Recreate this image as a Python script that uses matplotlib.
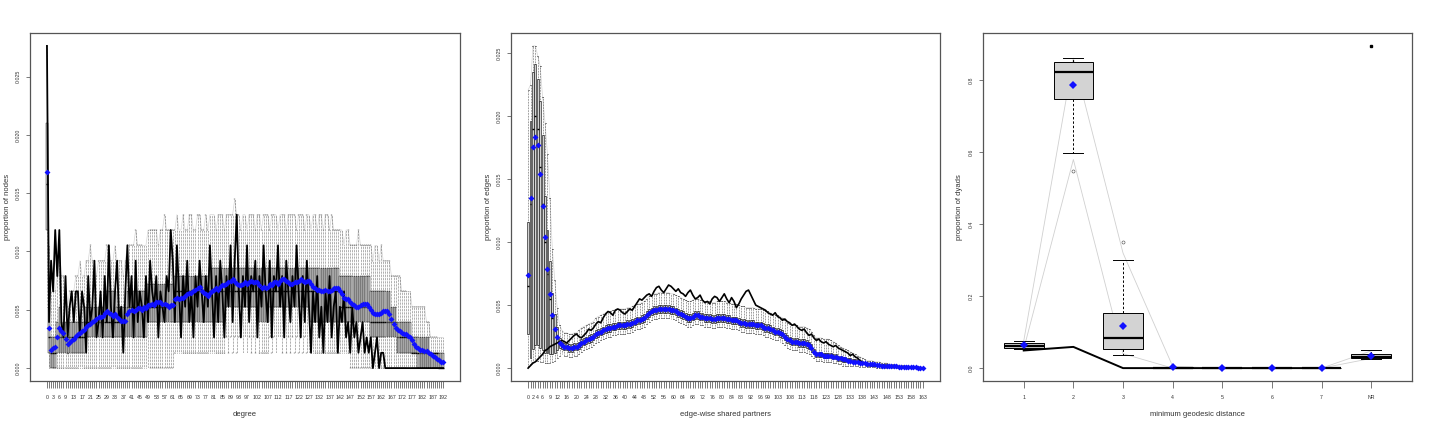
import matplotlib
matplotlib.use("Agg")
import matplotlib.pyplot as plt
import numpy as np

plt.rcParams['font.family'] = ['Liberation Sans', 'DejaVu Sans']

# ---------------- Panel 1: degree (counts out of N_NODES nodes) ----------------
N_NODES = 760
deg_cats = list(range(0, 193))
deg_tick_labels = [0, 3, 6, 9, 13, 17, 21, 25, 29, 33, 37, 41, 45, 49, 53, 57, 61, 65, 69, 73,
                   77, 81, 85, 89, 93, 97, 102, 107, 112, 117, 122, 127, 132, 137, 142, 147,
                   152, 157, 162, 167, 172, 177, 182, 187, 192]
deg_mean = [12.8, 2.6, 1.2, 1.3, 1.4, 2.0, 2.6, 2.4, 2.3, 1.9,
            1.6, 1.7, 1.8, 1.9, 2.1, 2.2, 2.3, 2.4, 2.5, 2.7,
            2.8, 2.9, 3.0, 3.1, 3.2, 3.3, 3.3, 3.4, 3.6, 3.7,
            3.6, 3.5, 3.4, 3.5, 3.3, 3.2, 3.1, 3.1, 3.1, 3.5,
            3.7, 3.8, 3.7, 3.8, 3.9, 3.9, 3.8, 4.0, 3.9, 4.1,
            4.1, 4.2, 4.1, 4.3, 4.3, 4.3, 4.2, 4.2, 4.1, 4.0,
            4.1, 4.1, 4.5, 4.6, 4.5, 4.6, 4.6, 4.7, 4.8, 4.9,
            4.9, 5.0, 5.1, 5.2, 5.3, 5.0, 4.9, 4.8, 4.7, 4.9,
            5.0, 5.1, 5.2, 5.1, 5.3, 5.4, 5.4, 5.5, 5.6, 5.7,
            5.8, 5.6, 5.5, 5.4, 5.4, 5.5, 5.6, 5.5, 5.6, 5.7,
            5.6, 5.6, 5.6, 5.4, 5.2, 5.3, 5.2, 5.3, 5.5, 5.4,
            5.6, 5.6, 5.5, 5.7, 5.8, 5.8, 5.7, 5.6, 5.5, 5.5,
            5.6, 5.6, 5.7, 5.8, 5.7, 5.6, 5.7, 5.7, 5.5, 5.3,
            5.2, 5.1, 5.1, 5.0, 5.0, 5.1, 5.0, 5.0, 5.1, 5.2,
            5.2, 5.2, 5.0, 4.8, 4.6, 4.5, 4.5, 4.3, 4.2, 4.1,
            4.0, 4.0, 4.1, 4.2, 4.2, 4.2, 4.0, 3.8, 3.6, 3.5,
            3.5, 3.5, 3.6, 3.7, 3.7, 3.7, 3.5, 3.2, 2.9, 2.6,
            2.5, 2.4, 2.3, 2.2, 2.2, 2.1, 2.0, 1.8, 1.6, 1.4,
            1.3, 1.2, 1.2, 1.1, 1.1, 1.0, 0.9, 0.8, 0.7, 0.6,
            0.5, 0.4, 0.4]
deg_obs = [21, 3, 7, 5, 9, 6, 9, 3, 2, 6,
           2, 4, 5, 3, 5, 5, 2, 5, 4, 1,
           6, 3, 4, 7, 2, 3, 5, 2, 6, 3,
           8, 4, 2, 5, 7, 3, 4, 1, 5, 8,
           4, 6, 2, 7, 3, 5, 4, 2, 6, 3,
           7, 5, 4, 6, 2, 5, 4, 3, 6, 5,
           9, 7, 3, 8, 5, 2, 6, 4, 7, 3,
           5, 2, 6, 4, 7, 5, 3, 6, 4, 8,
           5, 2, 6, 3, 7, 5, 2, 6, 4, 8,
           3, 7, 10, 5, 2, 6, 4, 8, 3, 6,
           5, 7, 2, 6, 4, 8, 5, 3, 7, 2,
           6, 5, 8, 4, 6, 2, 7, 5, 3, 6,
           4, 8, 5, 2, 6, 3, 7, 4, 1, 5,
           3, 6, 2, 4, 1, 5, 3, 6, 2, 4,
           5, 1, 4, 3, 5, 2, 3, 1, 4, 2,
           3, 1, 2, 3, 1, 2, 1, 2, 0, 1,
           2, 0, 1, 1, 0, 0, 0, 0, 0, 0,
           0, 0, 0, 0, 0, 0, 0, 0, 0, 0,
           0, 0, 0, 0, 0, 0, 0, 0, 0, 0,
           0, 0, 0]
deg_q1 = [9, 1, 0, 0, 0, 1, 1, 1, 1, 1,
          1, 1, 1, 1, 1, 1, 1, 1, 1, 2,
          2, 2, 2, 2, 2, 2, 2, 2, 2, 2,
          2, 2, 2, 2, 2, 2, 2, 2, 2, 2,
          2, 2, 2, 2, 2, 2, 2, 2, 2, 3,
          3, 3, 3, 3, 3, 3, 3, 3, 3, 3,
          3, 3, 3, 3, 3, 3, 3, 3, 3, 3,
          3, 3, 3, 3, 3, 3, 3, 3, 3, 3,
          3, 3, 3, 3, 3, 3, 3, 4, 4, 4,
          4, 4, 4, 4, 4, 4, 4, 4, 4, 4,
          4, 4, 4, 3, 3, 3, 3, 3, 4, 4,
          4, 4, 4, 4, 4, 4, 4, 4, 4, 4,
          4, 4, 4, 4, 4, 4, 4, 4, 3, 3,
          3, 3, 3, 3, 3, 3, 3, 3, 3, 3,
          3, 3, 3, 3, 3, 3, 3, 3, 3, 3,
          3, 3, 3, 3, 3, 3, 3, 2, 2, 2,
          2, 2, 2, 2, 2, 2, 2, 2, 2, 2,
          1, 1, 1, 1, 1, 1, 1, 1, 1, 1,
          0, 0, 0, 0, 0, 0, 0, 0, 0, 0,
          0, 0, 0]
deg_med = [12, 2, 1, 1, 1, 2, 2, 2, 2, 2,
           1, 2, 2, 2, 2, 2, 2, 2, 2, 3,
           3, 3, 3, 3, 3, 3, 3, 3, 3, 3,
           3, 3, 3, 3, 3, 3, 3, 3, 3, 4,
           4, 4, 4, 4, 4, 4, 4, 4, 4, 4,
           4, 4, 4, 4, 4, 4, 4, 4, 4, 4,
           4, 4, 5, 5, 5, 5, 5, 5, 5, 5,
           5, 5, 5, 5, 5, 5, 5, 5, 5, 5,
           5, 5, 5, 5, 5, 5, 5, 5, 5, 5,
           5, 5, 5, 5, 5, 5, 5, 5, 5, 5,
           5, 5, 5, 5, 5, 5, 5, 5, 5, 5,
           5, 5, 5, 5, 5, 5, 5, 5, 5, 5,
           5, 5, 5, 5, 5, 5, 5, 5, 5, 5,
           5, 5, 5, 5, 5, 5, 5, 5, 5, 5,
           5, 5, 4, 4, 4, 4, 4, 4, 4, 4,
           4, 4, 4, 4, 4, 4, 4, 3, 3, 3,
           3, 3, 3, 3, 3, 3, 3, 3, 3, 3,
           2, 2, 2, 2, 2, 2, 2, 1, 1, 1,
           1, 1, 1, 1, 1, 1, 1, 1, 1, 1,
           0, 0, 0]
deg_q3 = [16, 4, 2, 2, 2, 3, 4, 3, 3, 3,
          2, 3, 3, 3, 3, 3, 3, 3, 3, 4,
          4, 4, 4, 4, 4, 4, 4, 4, 5, 5,
          5, 5, 5, 5, 4, 4, 4, 4, 4, 5,
          5, 5, 5, 5, 5, 5, 5, 5, 5, 5.5,
          5.5, 5.5, 5.5, 5.5, 5.5, 5.5, 5.5, 5.5, 5.5, 5.5,
          5.5, 5.5, 6, 6, 6, 6, 6, 6, 6, 6,
          6, 6, 6, 6, 6, 6, 6, 6, 6, 6.5,
          6.5, 6.5, 6.5, 6.5, 6.5, 6.5, 6.5, 6.5, 6.5, 6.5,
          6.5, 6.5, 6.5, 6.5, 6.5, 6.5, 6.5, 6.5, 6.5, 6.5,
          6.5, 6.5, 6.5, 6.5, 6.5, 6.5, 6.5, 6.5, 6.5, 6.5,
          6.5, 6.5, 6.5, 6.5, 6.5, 6.5, 6.5, 6.5, 6.5, 6.5,
          6.5, 6.5, 6.5, 6.5, 6.5, 6.5, 6.5, 6.5, 6.5, 6.5,
          6.5, 6.5, 6.5, 6.5, 6.5, 6.5, 6.5, 6.5, 6.5, 6.5,
          6.5, 6.5, 6, 6, 6, 6, 6, 6, 6, 6,
          6, 6, 6, 6, 6, 6, 6, 5, 5, 5,
          5, 5, 5, 5, 5, 5, 5, 4, 4, 4,
          3, 3, 3, 3, 3, 3, 3, 2, 2, 2,
          2, 2, 2, 2, 2, 2, 1, 1, 1, 1,
          1, 1, 1]
deg_wlo = [4, 0, 0, 0, 0, 0, 0, 0, 0, 0,
           0, 0, 0, 0, 0, 0, 0, 0, 0, 0,
           0, 0, 0, 0, 0, 0, 0, 0, 0, 0,
           0, 0, 0, 0, 0, 0, 0, 0, 0, 0,
           0, 0, 0, 0, 0, 0, 0, 0, 0, 0,
           0, 0, 0, 0, 0, 0, 0, 0, 0, 0,
           0, 0, 1, 1, 1, 1, 1, 1, 1, 1,
           1, 1, 1, 1, 1, 1, 1, 1, 1, 1,
           1, 1, 1, 1, 1, 1, 1, 2, 1, 2,
           1, 2, 1, 2, 2, 1, 2, 1, 2, 1,
           2, 1, 2, 1, 1, 1, 1, 1, 2, 1,
           2, 1, 2, 2, 1, 2, 1, 2, 1, 2,
           1, 2, 1, 2, 1, 2, 1, 1, 1, 1,
           1, 1, 1, 1, 1, 1, 1, 1, 1, 1,
           1, 1, 1, 1, 1, 1, 1, 0, 0, 0,
           0, 0, 0, 0, 0, 0, 0, 0, 0, 0,
           0, 0, 0, 0, 0, 0, 0, 0, 0, 0,
           0, 0, 0, 0, 0, 0, 0, 0, 0, 0,
           0, 0, 0, 0, 0, 0, 0, 0, 0, 0,
           0, 0, 0]
deg_whi = [21, 8, 5, 5, 5, 6, 8, 6, 6, 5,
           4, 5, 5, 5, 6, 6, 7, 6, 6, 7,
           7, 8, 7, 7, 6, 7, 7, 7, 7, 8,
           8, 7, 7, 8, 7, 7, 7, 6, 7, 8,
           8, 8, 8, 9, 8, 8, 8, 8, 8, 9,
           9, 9, 9, 9, 8, 9, 9, 10, 9, 9,
           9, 9, 9, 10, 9, 9, 10, 9, 9, 10,
           10, 9, 9, 10, 10, 9, 9, 10, 9, 10,
           10, 10, 9, 10, 10, 10, 9, 10, 10, 10,
           10, 11, 10, 10, 9, 10, 10, 9, 10, 10,
           10, 9, 10, 10, 9, 10, 10, 10, 9, 10,
           10, 10, 9, 10, 10, 10, 9, 10, 10, 10,
           10, 9, 10, 10, 10, 9, 10, 10, 9, 10,
           10, 9, 10, 10, 9, 10, 10, 9, 10, 9,
           9, 9, 9, 9, 8, 9, 9, 8, 8, 8,
           8, 9, 8, 8, 8, 8, 8, 8, 7, 8,
           8, 7, 8, 7, 7, 7, 7, 6, 6, 6,
           6, 6, 5, 5, 5, 5, 5, 4, 4, 4,
           4, 4, 4, 4, 3, 3, 2, 2, 2, 2,
           2, 2, 2]

# ---------------- Panel 2: edge-wise shared partners (units of 1e-4) ----------------
ESP_UNIT = 1e-4
esp_cats = list(range(0, 164))
esp_tick_labels = [0, 2, 4, 6, 9, 12, 16, 20, 24, 28, 32, 36, 40, 44, 48, 52, 56, 60, 64, 68,
                   72, 76, 80, 84, 88, 92, 96, 99, 103, 108, 113, 118, 123, 128, 133, 138,
                   143, 148, 153, 158, 163]
esp_mean = [74, 135, 176, 184, 177, 154, 129, 104, 79, 59,
            42, 31, 25, 20, 18, 17, 17, 16, 16, 17,
            17, 18, 20, 21, 22, 23, 24, 25, 27, 28,
            29, 30, 31, 32, 32, 33, 33, 34, 34, 34,
            34, 35, 35, 36, 37, 38, 38, 39, 40, 42,
            44, 45, 46, 46, 47, 47, 47, 47, 47, 46,
            46, 45, 44, 43, 42, 41, 40, 40, 41, 42,
            42, 41, 41, 40, 40, 40, 39, 39, 40, 40,
            40, 40, 39, 39, 38, 38, 38, 37, 36, 36,
            35, 35, 35, 35, 34, 34, 34, 33, 32, 32,
            31, 30, 29, 29, 28, 27, 25, 23, 22, 21,
            21, 21, 20, 20, 20, 19, 18, 16, 13, 11,
            11, 11, 10, 10, 10, 10, 9, 9, 8, 8,
            7, 7, 6, 6, 5, 5, 5, 4, 4, 4,
            3, 3, 3, 3, 2.5, 2.5, 2, 2, 2, 1.8,
            1.5, 1.4, 1.3, 1.2, 1.1, 1.0, 0.9, 0.8, 0.7, 0.6,
            0.5, 0.4, 0.3, 0.3]
esp_obs = [0, 2, 4, 5, 7, 9, 11, 14, 15, 17,
           18, 19, 20, 21, 22, 21, 20, 22, 24, 26,
           27, 25, 24, 26, 28, 31, 30, 32, 35, 37,
           36, 40, 43, 45, 44, 42, 46, 47, 46, 44,
           43, 45, 47, 46, 49, 52, 55, 54, 56, 58,
           59, 57, 61, 64, 65, 62, 60, 63, 66, 65,
           63, 61, 63, 60, 59, 57, 60, 62, 58, 55,
           56, 58, 54, 52, 53, 51, 55, 57, 56, 53,
           56, 59, 55, 52, 56, 53, 48, 51, 55, 58,
           61, 62, 58, 54, 50, 49, 48, 47, 46, 44,
           43, 42, 44, 41, 40, 38, 39, 37, 36, 34,
           35, 33, 31, 30, 31, 28, 26, 27, 24, 22,
           23, 21, 20, 21, 19, 18, 17, 18, 16, 15,
           14, 13, 12, 10, 11, 9, 8, 6, 5, 4,
           4, 3, 3, 2, 2, 2, 2, 2, 2, 1,
           1, 1, 1, 1, 1, 1, 1, 1, 1, 0.5,
           0.4, 0.3, 0.3, 0.2]
esp_q1 = [27, 8, 15, 18, 18, 16, 14, 12, 12, 11,
          11, 12, 14, 16, 15, 14, 14, 13, 13, 14,
          14, 15, 17, 18, 19, 20, 21, 22, 24, 25,
          26, 27, 28, 29, 29, 30, 30, 31, 31, 31,
          31, 32, 32, 33, 34, 35, 35, 36, 37, 39,
          41, 42, 43, 43, 44, 44, 44, 44, 44, 43,
          43, 42, 41, 40, 39, 38, 37, 37, 38, 39,
          39, 38, 38, 37, 37, 37, 36, 36, 37, 37,
          37, 37, 36, 36, 35, 35, 35, 34, 33, 33,
          32, 32, 32, 32, 31, 31, 31, 30, 29, 29,
          28, 27, 26, 26, 25, 24, 22, 20, 19, 18,
          18, 18, 17, 17, 17, 16, 15, 13, 11, 9,
          9, 9, 8, 8, 8, 8, 7, 7, 6, 6,
          5, 5, 5, 5, 4, 4, 4, 3, 3, 3,
          2, 2, 2, 2, 2, 2, 1.5, 1.5, 1.5, 1.3,
          1.0, 1.0, 0.9, 0.8, 0.8, 0.7, 0.6, 0.5, 0.5, 0.4,
          0.3, 0.2, 0.2, 0.2]
esp_med = [65, 130, 190, 200, 190, 160, 130, 100, 75, 55,
           40, 30, 24, 20, 18, 17, 17, 16, 16, 17,
           17, 18, 20, 21, 22, 23, 24, 25, 27, 28,
           29, 30, 31, 32, 32, 33, 33, 34, 34, 34,
           34, 35, 35, 36, 37, 38, 38, 39, 40, 42,
           44, 45, 46, 46, 47, 47, 47, 47, 47, 46,
           46, 45, 44, 43, 42, 41, 40, 40, 41, 42,
           42, 41, 41, 40, 40, 40, 39, 39, 40, 40,
           40, 40, 39, 39, 38, 38, 38, 37, 36, 36,
           35, 35, 35, 35, 34, 34, 34, 33, 32, 32,
           31, 30, 29, 29, 28, 27, 25, 23, 22, 21,
           21, 21, 20, 20, 20, 19, 18, 16, 13, 11,
           11, 11, 10, 10, 10, 10, 9, 9, 8, 8,
           7, 7, 6, 6, 5, 5, 5, 4, 4, 4,
           3, 3, 3, 3, 2.5, 2.5, 2, 2, 2, 1.8,
           1.5, 1.4, 1.3, 1.2, 1.1, 1.0, 0.9, 0.8, 0.7, 0.6,
           0.5, 0.4, 0.3, 0.3]
esp_q3 = [116, 196, 235, 242, 230, 212, 185, 137, 110, 85,
          60, 43, 33, 24, 21, 20, 20, 19, 19, 20,
          20, 21, 23, 24, 25, 26, 27, 28, 30, 31,
          32, 33, 34, 35, 35, 36, 36, 37, 37, 37,
          37, 38, 38, 39, 40, 41, 41, 42, 43, 45,
          47, 48, 49, 49, 50, 50, 50, 50, 50, 49,
          49, 48, 47, 46, 45, 44, 43, 43, 44, 45,
          45, 44, 44, 43, 43, 43, 42, 42, 43, 43,
          43, 43, 42, 42, 41, 41, 41, 40, 39, 39,
          38, 38, 38, 38, 37, 37, 37, 36, 35, 35,
          34, 33, 32, 32, 31, 30, 28, 26, 25, 24,
          24, 24, 23, 23, 23, 22, 21, 19, 15, 13,
          13, 13, 12, 12, 12, 12, 11, 11, 10, 10,
          9, 9, 8, 8, 7, 7, 7, 6, 5, 5,
          4, 4, 4, 4, 3.5, 3.5, 3, 3, 3, 2.5,
          2.0, 2.0, 1.8, 1.7, 1.5, 1.4, 1.3, 1.2, 1.0, 0.9,
          0.7, 0.6, 0.5, 0.5]
esp_wlo = [2, 3, 5, 6, 6, 5, 5, 4, 4, 4,
           5, 6, 8, 10, 11, 10, 10, 9, 9, 10,
           10, 11, 13, 14, 15, 16, 17, 18, 20, 21,
           22, 23, 24, 25, 25, 26, 26, 27, 27, 27,
           27, 28, 28, 29, 30, 31, 31, 32, 33, 35,
           37, 38, 39, 39, 40, 40, 40, 40, 40, 39,
           39, 38, 37, 36, 35, 34, 33, 33, 34, 35,
           35, 34, 34, 33, 33, 33, 32, 32, 33, 33,
           33, 33, 32, 32, 31, 31, 31, 30, 29, 29,
           28, 28, 28, 28, 27, 27, 27, 26, 25, 25,
           24, 23, 22, 22, 21, 20, 18, 16, 15, 14,
           14, 14, 13, 13, 13, 12, 11, 10, 8, 6,
           6, 6, 5, 5, 5, 5, 4, 4, 3, 3,
           2, 2, 2, 2, 1.5, 1.5, 1.5, 1, 1, 1,
           0.5, 0.5, 0.5, 0.5, 0.4, 0.4, 0.3, 0.3, 0.3, 0.2,
           0.1, 0.1, 0.1, 0.1, 0.1, 0, 0, 0, 0, 0,
           0, 0, 0, 0]
esp_whi = [221, 225, 256, 256, 248, 240, 215, 195, 170, 135,
           95, 70, 48, 34, 30, 28, 28, 27, 27, 28,
           28, 30, 32, 33, 34, 35, 36, 37, 40, 41,
           42, 43, 44, 45, 45, 46, 46, 47, 47, 47,
           47, 48, 48, 49, 50, 51, 51, 52, 53, 55,
           57, 58, 59, 59, 60, 60, 60, 60, 60, 59,
           59, 58, 57, 56, 55, 54, 53, 53, 54, 55,
           55, 54, 54, 53, 53, 53, 52, 52, 53, 53,
           53, 53, 52, 52, 51, 51, 51, 50, 49, 49,
           48, 48, 48, 48, 47, 47, 47, 46, 45, 45,
           44, 43, 42, 42, 41, 40, 38, 36, 35, 34,
           34, 34, 33, 33, 33, 32, 31, 29, 26, 24,
           24, 24, 23, 23, 23, 22, 21, 20, 18, 17,
           16, 15, 14, 13, 12, 11, 10, 9, 8, 7,
           6, 6, 6, 5, 5, 5, 4, 4, 4, 3.5,
           3, 3, 2.8, 2.6, 2.4, 2.2, 2.0, 1.8, 1.6, 1.4,
           1.2, 1.0, 0.8, 0.7]

# ---------------- Panel 3: minimum geodesic distance ----------------
dist_labels = ['1', '2', '3', '4', '5', '6', '7', 'NR']
dist_mean = [0.063, 0.786, 0.118, 0.003, 0.0, 0.0, 0.0, 0.033]
dist_obs = [0.049, 0.059, 0.0, 0.0, 0.0, 0.0, 0.0, 0.896]
dist_q1 = [0.056, 0.749, 0.053, 0.0, 0.0, 0.0, 0.0, 0.028]
dist_med = [0.062, 0.823, 0.084, 0.0, 0.0, 0.0, 0.0, 0.031]
dist_q3 = [0.070, 0.851, 0.153, 0.002, 0.0, 0.0, 0.0, 0.040]
dist_wlo = [0.052, 0.598, 0.037, 0.0, 0.0, 0.0, 0.0, 0.026]
dist_whi = [0.074, 0.862, 0.302, 0.004, 0.0, 0.0, 0.0, 0.049]
dist_out = [[], [0.549], [0.350], [], [], [], [], []]
dist_lo = [0.053, 0.58, 0.04, 0.0, 0.0, 0.0, 0.0, 0.027]
dist_hi = [0.075, 0.862, 0.32, 0.005, 0.0, 0.0, 0.0, 0.048]

W, H = 1429, 424
fig = plt.figure(figsize=(W / 100, H / 100), dpi=100)
fig.patch.set_facecolor('white')

TXT = '#333333'
FRAME = '#555555'


def make_axes(left_px, width_px):
    return fig.add_axes([left_px / W, 43 / H, width_px / W, 348 / H])


def style(ax, n, label_text, xlabel, ylabel, yticks, yfmt, ylabpad):
    for s in ax.spines.values():
        s.set_color(FRAME)
        s.set_linewidth(0.9)
    ax.set_xlim(0.5 - 0.04 * n, n + 0.5 + 0.04 * n)
    ax.set_xticks(np.arange(1, n + 1))
    ax.set_xticklabels(label_text)
    ax.tick_params(axis='x', length=5, width=0.5, colors='#444444', labelsize=3.8, pad=5,
                   labelcolor=TXT)
    ax.set_yticks(yticks)
    ax.set_yticklabels([yfmt.format(v) for v in yticks], rotation=90, va='center')
    ax.tick_params(axis='y', length=3, width=0.5, colors='#444444', labelsize=3.8, pad=4,
                   labelcolor=TXT)
    ax.set_xlabel(xlabel, fontsize=5.5, color=TXT, labelpad=8)
    ax.set_ylabel(ylabel, fontsize=5.5, color=TXT, labelpad=ylabpad)


def set_ylim_r(ax, arrays):
    vals = np.concatenate([np.ravel(np.asarray(a, dtype=float)) for a in arrays])
    lo, hi = vals.min(), vals.max()
    pad = 0.04 * (hi - lo)
    ax.set_ylim(lo - pad, hi + pad)


def draw_boxes(ax, pos, q1, med, q3, wlo, whi, fliers, lw, wlw, medlw, dash):
    stats = []
    for i in range(len(pos)):
        stats.append(dict(q1=q1[i], med=med[i], q3=q3[i], whislo=wlo[i], whishi=whi[i],
                          fliers=fliers[i]))
    ax.bxp(stats, positions=pos, widths=0.8, capwidths=0.4, patch_artist=True,
           showfliers=True, manage_ticks=False,
           boxprops=dict(facecolor='#D3D3D3', edgecolor='black', linewidth=lw),
           whiskerprops=dict(color='black', linewidth=wlw, linestyle=(0, dash)),
           capprops=dict(color='black', linewidth=lw),
           medianprops=dict(color='black', linewidth=medlw, solid_capstyle='butt'),
           flierprops=dict(marker='o', markersize=2.2, markerfacecolor='none',
                           markeredgecolor='#444444', markeredgewidth=0.4))


# ---- Panel 1 ----
ax1 = make_axes(30, 430)
n1 = len(deg_cats)
p1 = np.arange(1, n1 + 1)
sc = 1.0 / N_NODES
d_q1 = np.array(deg_q1) * sc
d_med = np.array(deg_med) * sc
d_q3 = np.array(deg_q3) * sc
d_wlo = np.array(deg_wlo) * sc
d_whi = np.array(deg_whi) * sc
d_mean = np.array(deg_mean) * sc
d_obs = np.array(deg_obs) * sc
draw_boxes(ax1, p1, d_q1, d_med, d_q3, d_wlo, d_whi, [[] for _ in p1], 0.3, 0.4, 1.0,
           (1.0, 1.6))
ax1.plot(p1, d_whi, color='#d5d5d5', lw=0.5, zorder=1)
ax1.plot(p1, d_obs, color='black', lw=1.3, zorder=4)
ax1.plot(p1, d_mean, linestyle='none', marker='D', markersize=3.0, color='#1010ff',
         markeredgewidth=0, zorder=5)
lab1 = [str(c) if c in deg_tick_labels else '' for c in deg_cats]
set_ylim_r(ax1, [d_q1, d_whi, d_obs, d_mean, d_wlo])
style(ax1, n1, lab1, 'degree', 'proportion of nodes',
      [0.0, 0.005, 0.010, 0.015, 0.020, 0.025], '{:.3f}', 3)

# ---- Panel 2 ----
ax2 = make_axes(511, 429)
n2 = len(esp_cats)
p2 = np.arange(1, n2 + 1)
e = ESP_UNIT
e_q1 = np.array(esp_q1) * e
e_med = np.array(esp_med) * e
e_q3 = np.array(esp_q3) * e
e_wlo = np.array(esp_wlo) * e
e_whi = np.array(esp_whi) * e
e_mean = np.array(esp_mean) * e
e_obs = np.array(esp_obs) * e
draw_boxes(ax2, p2, e_q1, e_med, e_q3, e_wlo, e_whi, [[] for _ in p2], 0.4, 0.4, 1.0,
           (1.2, 1.6))
ax2.plot(p2, e_whi, color='#d5d5d5', lw=0.5, zorder=1)
ax2.plot(p2, e_obs, color='black', lw=1.2, zorder=4)
ax2.plot(p2, e_mean, linestyle='none', marker='D', markersize=3.0, color='#1010ff',
         markeredgewidth=0, zorder=5)
lab2 = [str(c) if c in esp_tick_labels else '' for c in esp_cats]
set_ylim_r(ax2, [e_q1, e_whi, e_obs, e_mean, e_wlo])
style(ax2, n2, lab2, 'edge-wise shared partners', 'proportion of edges',
      [0.0, 0.005, 0.010, 0.015, 0.020, 0.025], '{:.3f}', 3)

# ---- Panel 3 ----
ax3 = make_axes(983, 429)
n3 = len(dist_labels)
p3 = np.arange(1, n3 + 1)
ax3.plot(p3, dist_lo, color='#d0d0d0', lw=0.6, zorder=1)
ax3.plot(p3, dist_hi, color='#d0d0d0', lw=0.6, zorder=1)
draw_boxes(ax3, p3, dist_q1, dist_med, dist_q3, dist_wlo, dist_whi, dist_out, 0.7, 0.7, 1.6,
           (2.5, 2.0))
ax3.plot(p3[:7], dist_obs[:7], color='black', lw=1.4, zorder=4)
ax3.plot(p3[7:], dist_obs[7:], linestyle='none', marker='s', markersize=1.6,
         color='black', zorder=4)
ax3.plot(p3, dist_mean, linestyle='none', marker='D', markersize=3.6, color='#1010ff',
         markeredgewidth=0, zorder=5)
set_ylim_r(ax3, [dist_q1, dist_whi, dist_obs, dist_mean, dist_wlo])
style(ax3, n3, dist_labels, 'minimum geodesic distance', 'proportion of dyads',
      [0.0, 0.2, 0.4, 0.6, 0.8], '{:.1f}', 4)

fig.savefig('out.png', dpi=100, facecolor='white')
